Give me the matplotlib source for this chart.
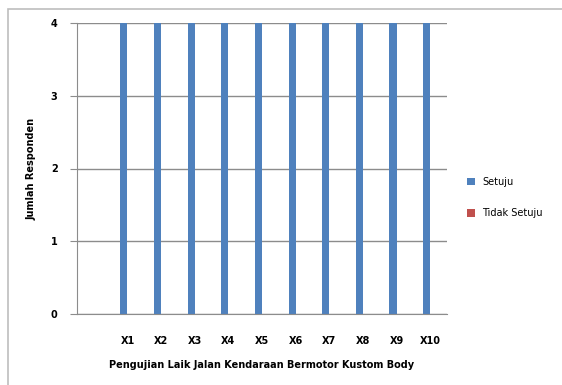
import matplotlib.pyplot as plt
from matplotlib.patches import Rectangle
import numpy as np

kategori = ["", "X1", "X2", "X3", "X4", "X5", "X6", "X7", "X8", "X9", "X10"]
setuju = [0, 4, 4, 4, 4, 4, 4, 4, 4, 4, 4]
tidak_setuju = [0, 0, 0, 0, 0, 0, 0, 0, 0, 0, 0]

plt.rcParams["font.family"] = ["DejaVu Sans"]

fig = plt.figure(figsize=(5.62, 3.85), dpi=100)
# bingkai luar grafik
fig.patches.append(Rectangle((8 / 562, -0.05), 1.0, 1.05 - 9 / 385,
                             transform=fig.transFigure, fill=False,
                             edgecolor="#bdbdbd", linewidth=1.2))
ax = fig.add_axes([77 / 562, 1 - 314 / 385, 370 / 562, 291 / 385])

x = np.arange(len(kategori))
lebar = 0.21
ax.bar(x - lebar / 2, setuju, lebar, color="#4F81BD", label="Setuju")
ax.bar(x + lebar / 2, tidak_setuju, lebar, color="#C0504D", label="Tidak Setuju")

ax.set_xlim(-0.5, len(kategori) - 0.5)
ax.set_ylim(0, 4)
ax.set_yticks([0, 1, 2, 3, 4])
ax.set_xticks(x)
ax.set_xticklabels(kategori)
ax.yaxis.grid(True, color="#8c8c8c", linewidth=1)
ax.set_axisbelow(True)
for s in ["left", "bottom"]:
    ax.spines[s].set_color("#8c8c8c")
ax.spines["top"].set_visible(False)
ax.spines["right"].set_visible(False)
ax.tick_params(axis="y", length=5, color="#8c8c8c", labelsize=7, pad=9)
ax.tick_params(axis="x", length=0, labelsize=7, pad=16)
for t in ax.get_xticklabels() + ax.get_yticklabels():
    t.set_fontweight("bold")

ax.set_xlabel("Pengujian Laik Jalan Kendaraan Bermotor Kustom Body",
              fontsize=7, fontweight="bold", labelpad=10)
ax.set_ylabel("Jumlah Responden", fontsize=7, fontweight="bold", labelpad=10)

ax.legend(loc="center left", bbox_to_anchor=(1.03, 0.40), frameon=False,
          fontsize=7, handlelength=0.8, handleheight=0.8, labelspacing=2.2)

fig.savefig("out.png", dpi=100)
